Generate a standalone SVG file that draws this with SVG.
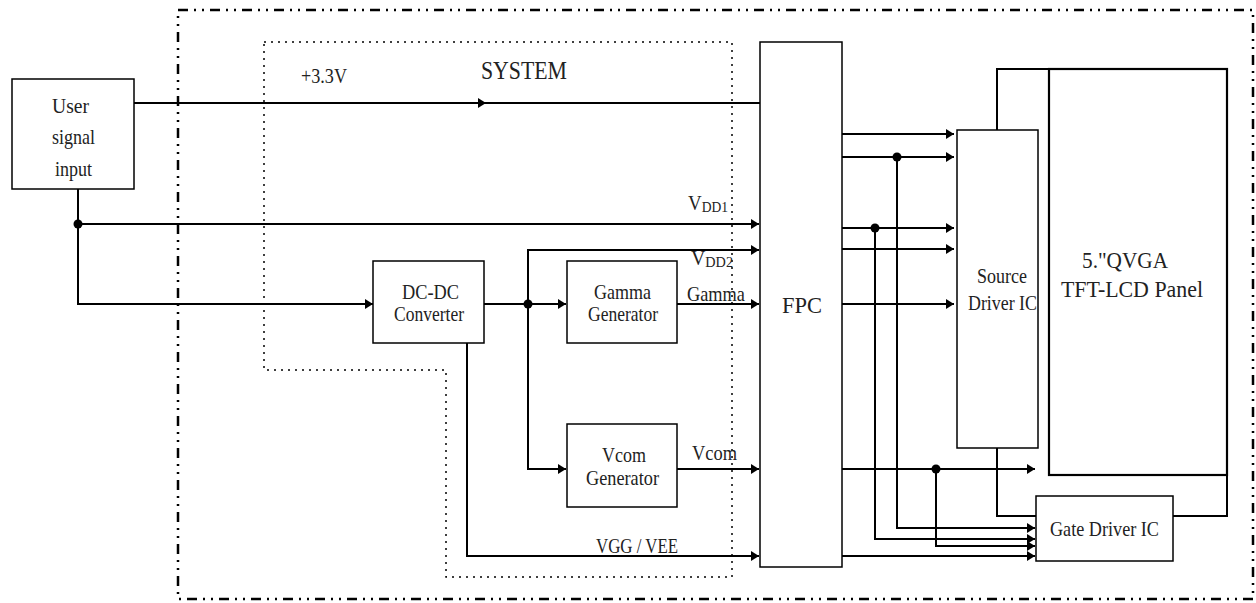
<svg xmlns="http://www.w3.org/2000/svg" width="1256" height="603" viewBox="0 0 1256 603" font-family="'Liberation Serif', 'Times New Roman', serif">
<defs>
<marker id="ah" markerWidth="8" markerHeight="10" refX="8" refY="5" orient="auto" markerUnits="userSpaceOnUse">
<path d="M0,0 L8,5 L0,10 z" fill="#000"/>
</marker>
<style>
.box{fill:#fff;stroke:#000;stroke-width:1.5}
.ln{fill:none;stroke:#000;stroke-width:2}
.ar{fill:none;stroke:#000;stroke-width:2;marker-end:url(#ah)}
.dot{fill:#000}
.t{font-family:'Liberation Serif','Times New Roman',serif;fill:#222}
</style>
</defs>
<rect x="178" y="10" width="1075" height="589" fill="none" stroke="#000" stroke-width="2.5" stroke-dasharray="10 6 2 6 2 6"/>
<path d="M264 42 H732 V577 H446 V370 H264 Z" fill="none" stroke="#000" stroke-width="1.5" stroke-dasharray="2 5"/>

<g id="connectors">
<path class="ar" d="M134 103 H486"/>
<path class="ln" d="M486 103 H760"/>
<path class="ar" d="M78 189 V304 H373"/>
<path class="ar" d="M78 224 H759"/>
<path class="ar" d="M484 304 H566"/>
<path class="ar" d="M528 304 V250 H759"/>
<path class="ar" d="M528 304 V469 H566"/>
<path class="ar" d="M677 304 H759"/>
<path class="ar" d="M677 469 H759"/>
<path class="ar" d="M467 343 V556 H759"/>
<path class="ar" d="M842 134 H954"/>
<path class="ar" d="M842 157 H954"/>
<path class="ar" d="M842 228 H954"/>
<path class="ar" d="M842 249 H954"/>
<path class="ar" d="M842 304 H954"/>
<path class="ar" d="M897 157 V528 H1035"/>
<path class="ar" d="M875 228 V539 H1035"/>
<path class="ar" d="M842 469 H1035"/>
<path class="ar" d="M936 469 V546 H1035"/>
<path class="ar" d="M842 556 H1035"/>
<path class="ln" d="M997 130 V69 H1049"/>
<path class="ln" d="M997 448 V516 H1036"/>
<path class="ln" d="M1227 475 V516 H1173"/>
<circle class="dot" cx="78" cy="224" r="4.5"/>
<circle class="dot" cx="528" cy="304" r="4.5"/>
<circle class="dot" cx="897" cy="157" r="4.5"/>
<circle class="dot" cx="875" cy="228" r="4.5"/>
<circle class="dot" cx="936" cy="469" r="4.5"/>
<text class="t" x="301" y="83" font-size="21" textLength="46" lengthAdjust="spacingAndGlyphs">+3.3V</text>
<text class="t" x="688" y="210" font-size="21" textLength="40" lengthAdjust="spacingAndGlyphs">V<tspan font-size="15" dy="2">DD1</tspan></text>
<text class="t" x="691" y="265" font-size="21" textLength="42" lengthAdjust="spacingAndGlyphs">V<tspan font-size="15" dy="2">DD2</tspan></text>
<text class="t" x="687" y="301" font-size="21" textLength="58" lengthAdjust="spacingAndGlyphs">Gamma</text>
<text class="t" x="692" y="460" font-size="21" textLength="45" lengthAdjust="spacingAndGlyphs">Vcom</text>
<text class="t" x="596" y="553" font-size="21" textLength="82" lengthAdjust="spacingAndGlyphs">VGG / VEE</text>
</g>

<text class="t" x="481" y="79" font-size="25" textLength="86" lengthAdjust="spacingAndGlyphs">SYSTEM</text>

<g id="user-signal-input">
<rect class="box" x="12" y="79" width="122" height="110"/>
<text class="t" x="52" y="113" font-size="21" textLength="37" lengthAdjust="spacingAndGlyphs">User</text>
<text class="t" x="52" y="144" font-size="21" textLength="43" lengthAdjust="spacingAndGlyphs">signal</text>
<text class="t" x="55" y="176" font-size="21" textLength="37" lengthAdjust="spacingAndGlyphs">input</text>
</g>

<g id="dc-dc-converter">
<rect class="box" x="373" y="261" width="111" height="82"/>
<text class="t" x="402" y="299" font-size="21" textLength="57" lengthAdjust="spacingAndGlyphs">DC-DC</text>
<text class="t" x="394" y="321" font-size="21" textLength="70" lengthAdjust="spacingAndGlyphs">Converter</text>
</g>

<g id="gamma-generator">
<rect class="box" x="567" y="261" width="110" height="82"/>
<text class="t" x="594" y="299" font-size="21" textLength="57" lengthAdjust="spacingAndGlyphs">Gamma</text>
<text class="t" x="588" y="321" font-size="21" textLength="70" lengthAdjust="spacingAndGlyphs">Generator</text>
</g>

<g id="vcom-generator">
<rect class="box" x="567" y="424" width="110" height="83"/>
<text class="t" x="602" y="462" font-size="21" textLength="44" lengthAdjust="spacingAndGlyphs">Vcom</text>
<text class="t" x="586" y="485" font-size="21" textLength="73" lengthAdjust="spacingAndGlyphs">Generator</text>
</g>

<g id="fpc">
<rect class="box" x="760" y="42" width="82" height="525"/>
<text class="t" x="782" y="313" font-size="23" textLength="40" lengthAdjust="spacingAndGlyphs">FPC</text>
</g>

<g id="source-driver-ic">
<rect class="box" x="957" y="130" width="81" height="318"/>
<text class="t" x="977" y="283" font-size="21" textLength="50" lengthAdjust="spacingAndGlyphs">Source</text>
<text class="t" x="968" y="310" font-size="21" textLength="69" lengthAdjust="spacingAndGlyphs">Driver IC</text>
</g>

<g id="tft-lcd-panel">
<rect x="1049" y="69" width="178" height="406" fill="#fff" stroke="#000" stroke-width="2.2"/>
<text class="t" x="1082" y="268" font-size="23" textLength="86" lengthAdjust="spacingAndGlyphs">5.&quot;QVGA</text>
<text class="t" x="1061" y="297" font-size="23" textLength="142" lengthAdjust="spacingAndGlyphs">TFT-LCD Panel</text>
</g>

<g id="gate-driver-ic">
<rect class="box" x="1036" y="496" width="137" height="65"/>
<text class="t" x="1050" y="536" font-size="22" textLength="109" lengthAdjust="spacingAndGlyphs">Gate Driver IC</text>
</g>
</svg>
